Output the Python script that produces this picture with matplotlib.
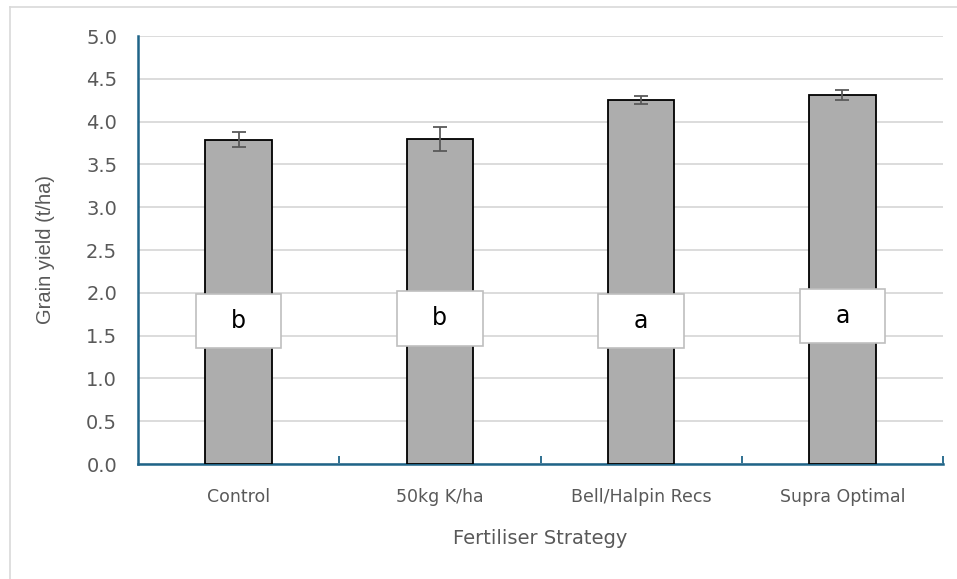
import matplotlib.pyplot as plt
from matplotlib.patches import Rectangle
from matplotlib.lines import Line2D

categories = ['Control', '50kg K/ha', 'Bell/Halpin Recs', 'Supra Optimal']
yields = [3.79, 3.80, 4.25, 4.31]
errors = [0.09, 0.14, 0.05, 0.06]
letters = ['b', 'b', 'a', 'a']
letter_y = [1.67, 1.70, 1.67, 1.73]

fig = plt.figure(figsize=(9.57, 5.79), dpi=100)
W, H = 957, 579
ax = fig.add_axes([138 / W, 1 - 464 / H, (943 - 138) / W, (464 - 36) / H])

x = list(range(len(categories)))
ax.bar(x, yields, width=0.33, color='#ADADAD', edgecolor='black', linewidth=1.3, zorder=3)
ax.errorbar(x, yields, yerr=errors, fmt='none', ecolor='#595959', elinewidth=1.3,
            capsize=5, capthick=1.3, zorder=4)

# letter labels in white boxes
for i, (lab, ly) in enumerate(zip(letters, letter_y)):
    ax.add_patch(Rectangle((i - 0.213, ly - 0.32), 0.426, 0.64, facecolor='white',
                           edgecolor='#BFBFBF', linewidth=1.2, zorder=4.5))
    ax.text(i, ly, lab, ha='center', va='center', fontsize=17, family='DejaVu Sans',
            color='black', zorder=5)

ax.set_xlim(-0.5, 3.5)
ax.set_ylim(0, 5)
ax.set_yticks([i * 0.5 for i in range(11)])
ax.set_yticklabels([f'{i * 0.5:.1f}' for i in range(11)])
ax.yaxis.grid(True, color='#D9D9D9', linewidth=1.3, zorder=0)
ax.set_axisbelow(True)

ax.set_xticks(x)
ax.set_xticklabels(categories)
ax.tick_params(axis='x', length=0, pad=17, labelsize=12.5, labelcolor='#595959')
ax.tick_params(axis='y', length=0, pad=15, labelsize=14, labelcolor='#595959')
for t in ax.get_yticklabels():
    t.set_family('DejaVu Sans')

# ticks on category boundaries
ax.set_xticks([0.5, 1.5, 2.5, 3.5], minor=True)
ax.tick_params(axis='x', which='minor', direction='in', length=6, width=1.3, color='#1F6488')

for s in ['top', 'right']:
    ax.spines[s].set_visible(False)
for s in ['left', 'bottom']:
    ax.spines[s].set_color('#1F6488')
    ax.spines[s].set_linewidth(1.8)

ax.set_ylabel('Grain yield (t/ha)', fontsize=14.5, color='#595959', family='Liberation Sans',
              labelpad=22)
ax.set_xlabel('Fertiliser Strategy', fontsize=14, color='#595959', labelpad=17)

# outer frame lines of the chart area
fig.add_artist(Line2D([10 / W, 1], [1 - 7 / H, 1 - 7 / H], color='#D9D9D9', lw=1.2))
fig.add_artist(Line2D([10 / W, 10 / W], [0, 1 - 7 / H], color='#D9D9D9', lw=1.2))

fig.savefig('out.png', dpi=100)
